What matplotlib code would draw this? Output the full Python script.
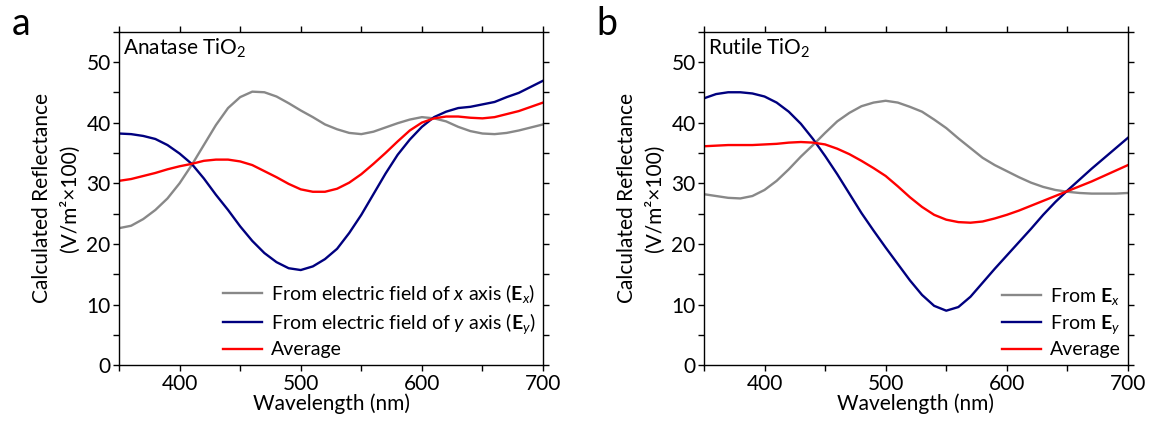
import matplotlib
matplotlib.use("Agg")
import matplotlib.pyplot as plt
from matplotlib.ticker import MultipleLocator

plt.rcParams["font.family"] = ["Lato", "DejaVu Sans"]
plt.rcParams["mathtext.fontset"] = "custom"
plt.rcParams["mathtext.rm"] = "Lato"
plt.rcParams["mathtext.it"] = "Lato:italic"
plt.rcParams["mathtext.bf"] = "Lato:bold"

# Wavelength grid (nm)
wavelength = [350, 360, 370, 380, 390, 400, 410, 420, 430, 440, 450, 460,
              470, 480, 490, 500, 510, 520, 530, 540, 550, 560, 570, 580,
              590, 600, 610, 620, 630, 640, 650, 660, 670, 680, 690, 700]

# Anatase TiO2
anatase_ex = [22.6, 23.0, 24.1, 25.6, 27.5, 30.0, 33.0, 36.3, 39.6, 42.4, 44.2, 45.1,
              45.0, 44.3, 43.2, 42.0, 40.9, 39.7, 38.9, 38.3, 38.1, 38.5, 39.2, 39.9,
              40.5, 40.9, 40.7, 40.2, 39.3, 38.6, 38.2, 38.1, 38.3, 38.7, 39.2, 39.7]
anatase_ey = [38.2, 38.1, 37.8, 37.3, 36.3, 34.9, 33.2, 30.8, 28.1, 25.6, 22.9, 20.5,
              18.5, 17.0, 16.0, 15.7, 16.3, 17.5, 19.2, 21.8, 24.8, 28.2, 31.6, 34.7,
              37.2, 39.3, 40.9, 41.8, 42.4, 42.6, 43.0, 43.4, 44.2, 44.9, 45.9, 46.9]
anatase_avg = [30.4, 30.7, 31.2, 31.7, 32.3, 32.8, 33.2, 33.7, 33.9, 33.9, 33.6, 33.0,
               32.0, 31.0, 29.9, 29.0, 28.6, 28.6, 29.1, 30.1, 31.5, 33.2, 35.0, 36.9,
               38.7, 40.0, 40.7, 41.0, 41.0, 40.8, 40.7, 40.9, 41.4, 41.9, 42.6, 43.3]

# Rutile TiO2
rutile_ex = [28.2, 27.9, 27.6, 27.5, 27.9, 28.9, 30.4, 32.3, 34.4, 36.3, 38.3, 40.2,
             41.6, 42.7, 43.3, 43.6, 43.3, 42.6, 41.8, 40.5, 39.1, 37.4, 35.8, 34.2,
             33.0, 32.0, 31.0, 30.1, 29.4, 28.9, 28.6, 28.4, 28.3, 28.3, 28.3, 28.4]
rutile_ey = [44.0, 44.7, 45.0, 45.0, 44.8, 44.3, 43.3, 41.8, 39.8, 37.3, 34.5, 31.5,
             28.3, 25.1, 22.2, 19.4, 16.7, 14.0, 11.6, 9.8, 9.0, 9.6, 11.3, 13.6,
             15.9, 18.1, 20.3, 22.5, 24.8, 26.9, 28.8, 30.6, 32.4, 34.1, 35.8, 37.5]
rutile_avg = [36.1, 36.2, 36.3, 36.3, 36.3, 36.4, 36.5, 36.7, 36.8, 36.7, 36.4, 35.7,
              34.8, 33.7, 32.5, 31.2, 29.5, 27.7, 26.1, 24.8, 24.0, 23.6, 23.5, 23.7,
              24.2, 24.8, 25.5, 26.3, 27.1, 27.9, 28.7, 29.5, 30.3, 31.2, 32.1, 33.0]

labels_a = [r"From electric field of $x$ axis ($\mathbf{E}_x$)",
            r"From electric field of $y$ axis ($\mathbf{E}_y$)",
            "Average"]
labels_b = [r"From $\mathbf{E}_x$", r"From $\mathbf{E}_y$", "Average"]

colors = ["#888888", "#00007f", "#ff0000"]

fig = plt.figure(figsize=(11.51, 4.28), dpi=100)
ax_a = fig.add_axes([0.1034, 0.1465, 0.3684, 0.7797])
ax_b = fig.add_axes([0.6116, 0.1465, 0.3684, 0.7797])

panels = [
    (ax_a, [anatase_ex, anatase_ey, anatase_avg], labels_a, "Anatase TiO$_2$", "a", 0.010),
    (ax_b, [rutile_ex, rutile_ey, rutile_avg], labels_b, "Rutile TiO$_2$", "b", 0.518),
]

for ax, series, labels, title, letter, lx in panels:
    for ys, c, lab in zip(series, colors, labels):
        ax.plot(wavelength, ys, color=c, lw=1.7, label=lab)
    ax.set_xlim(350, 700)
    ax.set_ylim(0, 55)
    ax.xaxis.set_major_locator(MultipleLocator(100))
    ax.xaxis.set_minor_locator(MultipleLocator(50))
    ax.yaxis.set_major_locator(MultipleLocator(10))
    ax.yaxis.set_minor_locator(MultipleLocator(5))
    ax.tick_params(which="both", direction="out", length=4, width=1,
                   top=True, right=True, labeltop=False, labelright=False,
                   labelsize=15, pad=2)
    for s in ax.spines.values():
        s.set_linewidth(1)
    ax.set_xlabel("Wavelength (nm)", fontsize=15, labelpad=0)
    ax.set_ylabel("Calculated Reflectance\n(V/m\u00b2\u00d7100)", fontsize=15,
                  linespacing=1.45, labelpad=5)
    ax.text(0.010, 0.985, title, transform=ax.transAxes, fontsize=15,
            ha="left", va="top")
    ax.legend(loc="lower right", frameon=False, fontsize=14,
              handlelength=2.0, handletextpad=0.5, labelspacing=0.3,
              borderaxespad=0.05, borderpad=0.3)
    fig.text(lx, 0.985, letter, fontsize=27, ha="left", va="top")

fig.savefig("out.png", dpi=100)
